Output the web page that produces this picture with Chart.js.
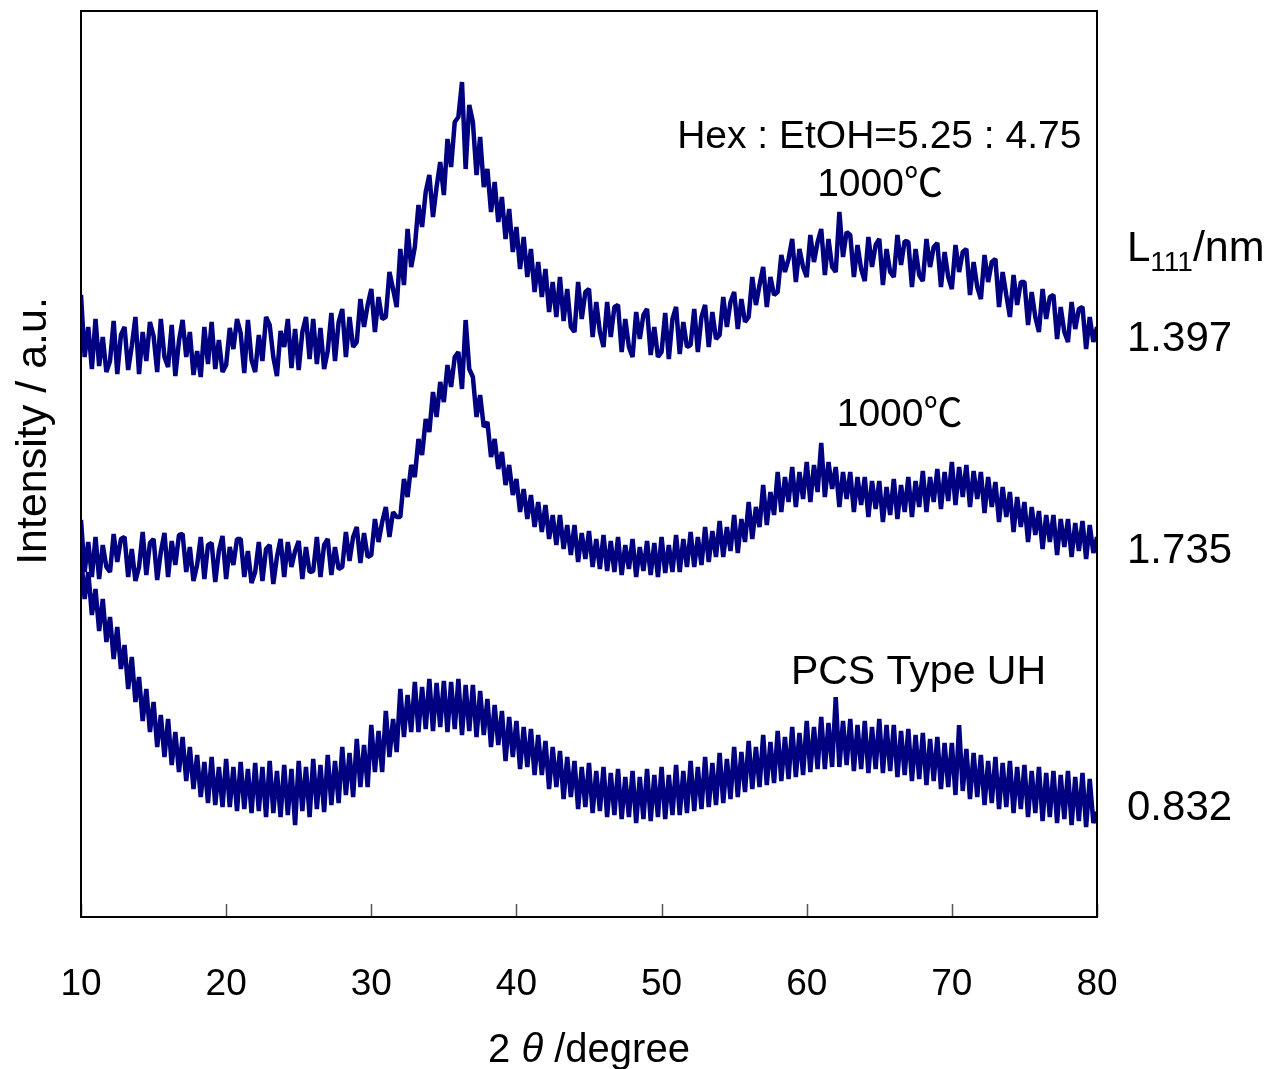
<!DOCTYPE html>
<html>
<head>
<meta charset="utf-8">
<title>XRD patterns</title>
<script src="https://cdn.jsdelivr.net/npm/chart.js@4.4.1/dist/chart.umd.min.js"></script>
<style>
  html, body { margin: 0; padding: 0; background: #fff; }
  #wrap { width: 1274px; height: 1069px; }
</style>
</head>
<body>
<div id="wrap"><canvas id="xrdChart" width="1274" height="1069"></canvas></div>
<script>
// 2theta sampling of the scans (degree)
const THETA_START = 10;
const THETA_STEP = 0.25;
const X_TICKS = [10, 20, 30, 40, 50, 60, 70, 80];

// Intensity (a.u.), one value per 0.25 degree
const hexEtohCounts = [
  622,560,590,548, 598,551,580,545, 556,596,543,582, 590,547,571,600, 543,585,556,595, 581,545,598,560, 550,592,541,576, 597,560,585,542, 566,540,590,553, 595,548,577,545,
  552,589,568,598, 584,544,597,557, 545,582,556,600, 592,560,541,586, 570,598,549,588, 547,585,600,558, 598,553,589,548, 566,604,556,595, 608,560,600,570, 575,618,590,612,
  628,585,620,598, 600,645,628,610, 668,632,688,650, 670,712,690,725, 742,700,730,755, 722,778,750,795, 800,835,748,812, 795,742,780,730, 748,705,735,695, 720,678,708,665,
  690,648,680,640, 668,625,655,620, 648,605,635,600, 640,596,628,590, 585,635,598,625, 628,580,615,585, 570,615,580,610, 612,565,598,570, 560,605,578,602, 608,562,590,560,
  565,604,558,598, 610,563,595,570, 572,608,565,600, 612,570,605,578, 582,620,590,615, 625,588,618,595, 600,640,612,632, 650,610,640,622, 625,662,645,658, 678,635,668,650,
  640,682,655,675, 688,642,678,650, 645,705,660,685, 682,640,672,648, 636,680,650,672, 678,632,668,645, 640,682,652,676, 675,630,668,642, 636,678,650,670, 674,630,665,640,
  628,672,645,665, 668,622,655,630, 618,662,635,655, 658,610,645,622, 600,642,612,635, 635,592,625,600, 585,628,598,620, 622,578,610,585, 575,615,588,608, 610,568,600,575,
  590
];
const sic1000Counts = [
  397,345,375,340, 380,338,372,350, 345,383,355,378, 380,340,368,336, 350,385,342,374, 378,337,365,384, 340,376,352,382, 383,345,370,336, 352,380,338,372, 374,335,366,381,
  338,370,352,378, 378,340,366,334, 345,375,336,368, 372,333,360,378, 340,375,350,366, 376,338,370,345, 346,380,340,372, 378,342,370,348, 350,385,356,380, 390,354,384,360,
  362,398,375,395, 410,380,405,400, 400,438,420,452, 440,478,462,498, 485,525,500,535, 515,552,530,560, 565,528,597,548, 540,500,522,490, 495,460,478,448, 465,432,452,422,
  438,405,428,398, 422,390,415,385, 412,378,402,372, 402,368,392,362, 392,355,384,358, 386,350,378,348, 382,346,376,345, 380,342,372,348, 378,340,370,346, 376,342,374,340,
  380,344,372,345, 382,345,378,350, 385,350,380,352, 390,355,386,360, 396,360,390,366, 402,364,398,375, 415,378,410,390, 432,392,425,402, 445,405,440,415, 450,410,445,418,
  455,415,452,425, 474,420,455,428, 450,410,445,418, 445,405,440,412, 440,400,436,408, 436,395,430,402, 438,398,432,405, 440,400,436,410, 446,405,440,415, 448,408,445,416,
  455,412,450,420, 452,410,446,418, 445,404,440,410, 435,395,430,400, 425,385,420,390, 415,375,410,382, 406,368,402,375, 402,362,398,370, 398,360,394,366, 396,358,392,364,
  380
];
const pcsTypeUHCounts = [
  362,318,345,302, 328,286,318,275, 300,258,290,248, 272,228,260,215, 240,196,228,185, 215,170,202,160, 198,152,185,145, 180,136,170,128, 162,120,155,114, 160,112,150,110,
  158,110,150,106, 155,108,148,104, 154,106,150,100, 156,104,146,100, 152,102,148,92, 156,106,150,100, 158,108,152,105, 162,112,156,114, 170,122,164,120, 178,130,172,130,
  192,145,186,145, 206,160,198,165, 228,180,222,185, 235,185,230,188, 238,186,234,190, 236,185,235,188, 238,182,232,186, 232,180,226,182, 218,170,212,172, 206,156,200,160,
  196,148,190,150, 188,142,182,142, 176,128,170,130, 166,118,160,120, 156,108,150,110, 154,104,146,106, 150,100,144,102, 148,98,140,100, 146,94,140,98, 148,96,142,100,
  150,98,142,102, 152,102,146,104, 156,106,150,108, 160,110,154,112, 164,114,158,118, 170,120,165,125, 176,128,170,130, 182,132,175,134, 186,136,180,138, 190,140,184,142,
  196,145,190,148, 200,148,194,150, 220,150,196,152, 198,146,192,148, 196,144,190,148, 198,144,192,146, 192,140,186,142, 188,136,182,138, 184,132,178,136, 180,128,174,130,
  174,122,192,126, 168,118,164,120, 162,112,156,114, 160,108,154,110, 156,104,150,108, 152,100,146,104, 150,96,144,100, 146,94,142,98, 146,92,140,96, 144,90,138,94,
  105
];

// crystallite size L111 (nm), top to bottom
const L111_VALUES = ['1.397', '1.735', '0.832'];

const FONT = '"Liberation Sans", Arial, "Noto Sans CJK JP", sans-serif';
const LINE_COLOR = '#000080';

function toPoints(counts) {
  return counts.map(function (v, i) {
    return { x: THETA_START + i * THETA_STEP, y: v };
  });
}

// Draw a sequence of text runs (different fonts) starting at x.
function drawRuns(ctx, runs, x, y, align) {
  let total = 0;
  runs.forEach(function (r) {
    ctx.font = r.font;
    r.w = ctx.measureText(r.text).width;
    total += r.w;
  });
  let cx = align === 'center' ? x - total / 2 : (align === 'right' ? x - total : x);
  ctx.textAlign = 'left';
  runs.forEach(function (r) {
    ctx.font = r.font;
    ctx.fillText(r.text, cx, y + (r.dy || 0));
    cx += r.w;
  });
}

// Frame, inward ticks and all the text labels.
const xrdDecor = {
  id: 'xrdDecor',
  afterDatasetsDraw(chart) {
    const ctx = chart.ctx;
    const a = chart.chartArea;
    const xs = chart.scales.x;
    const ys = chart.scales.y;
    ctx.save();

    // inward ticks on the bottom axis
    ctx.strokeStyle = '#555';
    ctx.lineWidth = 1.5;
    xs.ticks.forEach(function (t) {
      const px = Math.round(xs.getPixelForValue(t.value)) + 0.5;
      ctx.beginPath();
      ctx.moveTo(px, a.bottom);
      ctx.lineTo(px, a.bottom - 13);
      ctx.stroke();
    });

    // frame
    ctx.strokeStyle = '#000';
    ctx.lineWidth = 2;
    ctx.strokeRect(a.left, a.top, a.right - a.left, a.bottom - a.top);

    ctx.fillStyle = '#000';
    ctx.textBaseline = 'alphabetic';

    // sample labels (placed in data coordinates)
    const f39 = '39px ' + FONT;
    drawRuns(ctx, [
      { text: 'Hex', font: f39 }, { text: ' : ', font: f39 },
      { text: 'EtOH=5.25', font: f39 }, { text: ' : ', font: f39 },
      { text: '4.75', font: f39 }
    ], xs.getPixelForValue(65.0), ys.getPixelForValue(769), 'center');
    drawRuns(ctx, [{ text: '1000℃', font: f39 }],
      xs.getPixelForValue(65.05), ys.getPixelForValue(721), 'center');
    drawRuns(ctx, [{ text: '1000℃', font: f39 }],
      xs.getPixelForValue(66.4), ys.getPixelForValue(491), 'center');
    drawRuns(ctx, [{ text: 'PCS Type UH', font: '41px ' + FONT }],
      xs.getPixelForValue(67.7), ys.getPixelForValue(233), 'center');

    // right-hand L111 column
    const rx = a.right + 30;
    drawRuns(ctx, [
      { text: 'L', font: '42px ' + FONT },
      { text: '111', font: '28px ' + FONT, dy: 10 },
      { text: '/nm', font: '43px ' + FONT }
    ], rx, ys.getPixelForValue(656), 'left');
    const l111Levels = [566, 354, 97];
    L111_VALUES.forEach(function (txt, i) {
      drawRuns(ctx, [{ text: txt, font: '42px ' + FONT }], rx, ys.getPixelForValue(l111Levels[i]), 'left');
    });

    // y title
    ctx.save();
    ctx.translate(34, (a.top + a.bottom) / 2 - 33);
    ctx.rotate(-Math.PI / 2);
    ctx.textBaseline = 'middle';
    ctx.font = '43px ' + FONT;
    ctx.textAlign = 'center';
    ctx.fillText('Intensity / a.u.', 0, 0);
    ctx.restore();

    // x title
    ctx.textBaseline = 'alphabetic';
    drawRuns(ctx, [
      { text: '2 ', font: '40px ' + FONT },
      { text: 'θ', font: 'italic 40px ' + FONT },
      { text: ' /', font: '40px ' + FONT },
      { text: 'degree', font: '40px ' + FONT }
    ], (a.left + a.right) / 2, 1062, 'center');

    ctx.restore();
  }
};

const seriesStyle = {
  borderColor: LINE_COLOR,
  borderWidth: 4.5,
  borderJoinStyle: 'bevel',
  pointRadius: 0,
  tension: 0,
  fill: false
};

new Chart(document.getElementById('xrdChart').getContext('2d'), {
  type: 'line',
  data: {
    datasets: [
      Object.assign({ label: 'Hex:EtOH=5.25:4.75 1000℃', data: toPoints(hexEtohCounts) }, seriesStyle),
      Object.assign({ label: '1000℃', data: toPoints(sic1000Counts) }, seriesStyle),
      Object.assign({ label: 'PCS Type UH', data: toPoints(pcsTypeUHCounts) }, seriesStyle)
    ]
  },
  options: {
    responsive: false,
    animation: false,
    layout: { padding: { top: 11, right: 177, left: 0, bottom: 0 } },
    plugins: {
      legend: { display: false },
      tooltip: { enabled: false }
    },
    scales: {
      x: {
        type: 'linear',
        min: 10,
        max: 80,
        afterBuildTicks: function (scale) {
          scale.ticks = X_TICKS.map(function (v) { return { value: v }; });
        },
        afterFit: function (scale) { scale.height = 152; },
        grid: { display: false, drawTicks: false },
        border: { display: false },
        ticks: {
          color: '#000',
          padding: 46,
          maxRotation: 0,
          font: { family: FONT, size: 37 }
        }
      },
      y: {
        min: 0,
        max: 906,
        afterFit: function (scale) { scale.width = 81; },
        grid: { display: false, drawTicks: false },
        border: { display: false },
        ticks: { display: false }
      }
    }
  },
  plugins: [xrdDecor]
});
</script>
</body>
</html>
